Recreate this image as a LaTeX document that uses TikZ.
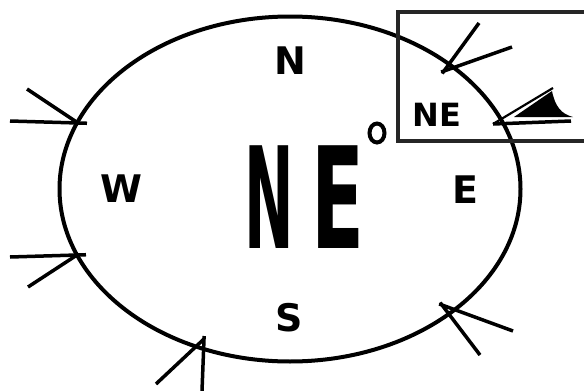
\documentclass[tikz,border=0pt]{standalone}
\usepackage{fontspec}
\usepackage{graphicx}
\usetikzlibrary{shapes.geometric}
\newfontfamily\lblfont{DejaVu Sans}
\tikzset{
  rim/.style={line width=4pt},
  barb/.style={line width=3.5pt},
  lbl/.style={font=\lblfont\bfseries\fontsize{38}{38}\selectfont, inner sep=0pt},
  small/.style={font=\lblfont\bfseries\fontsize{32}{32}\selectfont, inner sep=0pt},
}
\begin{document}
\begin{tikzpicture}[x=1pt,y=-1pt]
\clip (0,0) rectangle (584,391);
\fill[white] (0,0) rectangle (584,391);
% compass rim
\node[draw, rim, ellipse, minimum width=461pt, minimum height=345pt, inner sep=0pt] (rimE) at (290,189) {};
% inset box
\draw[line width=3.5pt, color=black!85] (600,12) -- (398,12) -- (398,141) -- (600,141);
% labels
\node[lbl] (n) at (290,61) {N};
\node[lbl] (w) at (121,189) {W};
\node[lbl] (e) at (465,190) {E};
\node[lbl] (s) at (289,318) {S};
\node[small] (ne) at (437,115) {NE};
% big display
\node[inner sep=0pt, anchor=west, font=\lblfont\bfseries\fontsize{141}{141}\selectfont] (big) at (244,197) {\scalebox{0.42}[1]{N}\kern18pt\scalebox{0.55}[1]{E}};
\node[draw, line width=4pt, ellipse, minimum width=15pt, minimum height=19pt, inner sep=0pt] (deg) at (377,133) {};
% barbs
\coordinate (t1) at (78,123);
\coordinate (a1) at (10,121);
\coordinate (b1) at (27,89);
\draw[barb, shorten >=-9pt] (a1) -- (t1);
\draw[barb] (b1) -- (t1);
\coordinate (t2) at (77,255);
\coordinate (a2) at (10,257);
\coordinate (b2) at (28,287);
\draw[barb, shorten >=-9pt] (a2) -- (t2);
\draw[barb] (b2) -- (t2);
\coordinate (t3) at (204,339);
\coordinate (a3) at (202,391);
\coordinate (b3) at (156,384);
\draw[barb, shorten >=-3pt] (a3) -- (t3);
\draw[barb] (b3) -- (t3);
\coordinate (t4) at (442,305);
\coordinate (a4) at (513,331);
\coordinate (b4) at (480,355);
\draw[barb, shorten >=-3pt] (a4) -- (t4);
\draw[barb, shorten >=-3pt] (b4) -- (t4);
\coordinate (t5) at (444,71);
\coordinate (a5) at (479,23);
\coordinate (b5) at (512,47);
\draw[barb, shorten >=-3pt] (a5) -- (t5);
\draw[barb, shorten >=-3pt] (b5) -- (t5);
% wind symbol
\coordinate (t6) at (493,124);
\coordinate (a6) at (571,121);
\coordinate (b6) at (553,88);
\draw[barb] (a6) -- (t6);
\draw[line width=2.2pt] (b6) -- (t6);
\fill (514,117) -- (552,91) .. controls (555,106) and (561,114) .. (573,117) -- cycle;
\end{tikzpicture}
\end{document}
